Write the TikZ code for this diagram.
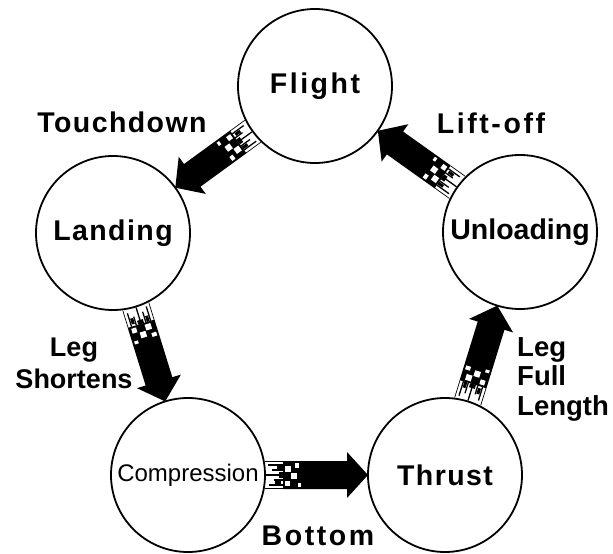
\documentclass[tikz,border=0pt]{standalone}
\usepackage{fontspec}
\setmainfont{Liberation Sans}
\newfontfamily\labfont[LetterSpace=5]{Liberation Sans}
\newfontfamily\widefont[LetterSpace=9]{Liberation Sans}
\usetikzlibrary{calc}
\newdimen\arx
\newdimen\ary
\makeatletter
\newcommand\fadearrow[2]{%
  \coordinate (t#1#2) at ($(#1)!77pt!(#2)$);
  \coordinate (h#1#2) at ($(#2)!77pt!(#1)$);
  \pgfpointdiff{\pgfpointanchor{t#1#2}{center}}{\pgfpointanchor{h#1#2}{center}}%
  \arx=\pgf@x \ary=\pgf@y
  \pgfmathveclen{\arx}{\ary}\let\arlen\pgfmathresult
  \pgfmathanglebetweenpoints{\pgfpointanchor{t#1#2}{center}}{\pgfpointanchor{h#1#2}{center}}\let\arang\pgfmathresult
  \begin{scope}[shift={(t#1#2)}, rotate=\arang, x=1pt, y=1pt]
    \fill (18,-14) -- (\arlen-21,-14) -- (\arlen-21,-23) -- (\arlen,0)
      -- (\arlen-21,23) -- (\arlen-21,14) -- (18,14) -- cycle;
    \fill[white] (20,3) rectangle (26,9);
    \fill[white] (26,-4) rectangle (32,2);
    \fill[white] (20,-11) rectangle (25,-6);
    \fill[white] (30,7) rectangle (34,12);
    \fill[white] (33,-12) rectangle (36,-8);
    \draw[line width=0.7] (0,13.6) -- (18,13.6) (0,-13.6) -- (18,-13.6);
    \draw[line width=1.3] (3,10) -- (18,10) (7,5) -- (18,5) (1,0) -- (18,0)
      (9,-5) -- (18,-5) (4,-10) -- (18,-10);
    \fill (12,6) rectangle (18,9);
    \fill (10,-9) rectangle (16,-6);
    \fill (14,-3) rectangle (18,3);
  \end{scope}}
\makeatother
\tikzset{
  state/.style={circle, draw, line width=1.8, minimum size=154, inner sep=0,
    font=\labfont\bfseries\fontsize{28.5}{30}\selectfont},
  lab/.style={inner sep=0, font=\labfont\bfseries\fontsize{28.5}{30}\selectfont},
}
\begin{document}
\begin{tikzpicture}[x=1pt, y=-1pt]
\useasboundingbox[fill=white] (0,0) rectangle (613,554);
\node[state, font=\widefont\bfseries\fontsize{28.5}{30}\selectfont] (flight) at (315,86) {Flight};
\node[state] (landing) at (113,233) {Landing};
\node[state, font=\fontsize{24}{26}\selectfont] (compression) at (188,475) {Compression};
\node[state] (thrust) at (445,475) {Thrust};
\node[state, font=\bfseries\fontsize{28.5}{30}\selectfont] (unloading) at (520,232) {Unloading};

\fadearrow{flight}{landing}
\fadearrow{landing}{compression}
\fadearrow{compression}{thrust}
\fadearrow{thrust}{unloading}
\fadearrow{unloading}{flight}

\node[lab, anchor=base] (ltouch) at (122,132) {Touchdown};
\node[lab, anchor=base, font=\widefont\bfseries\fontsize{28.5}{30}\selectfont] (llift) at (491,133) {Lift-off};
\node[lab, anchor=base, font=\widefont\bfseries\fontsize{28.5}{30}\selectfont] (lbottom) at (318,545) {Bottom};
\node[lab, anchor=north, align=center, font=\bfseries\fontsize{27}{32}\selectfont] (lshort) at (74,338) {Leg\\Shortens};
\node[lab, anchor=north west, align=left, font=\bfseries\fontsize{27.5}{29.5}\selectfont] (lfull) at (517,337) {Leg\\Full\\Length};
\end{tikzpicture}
\end{document}
